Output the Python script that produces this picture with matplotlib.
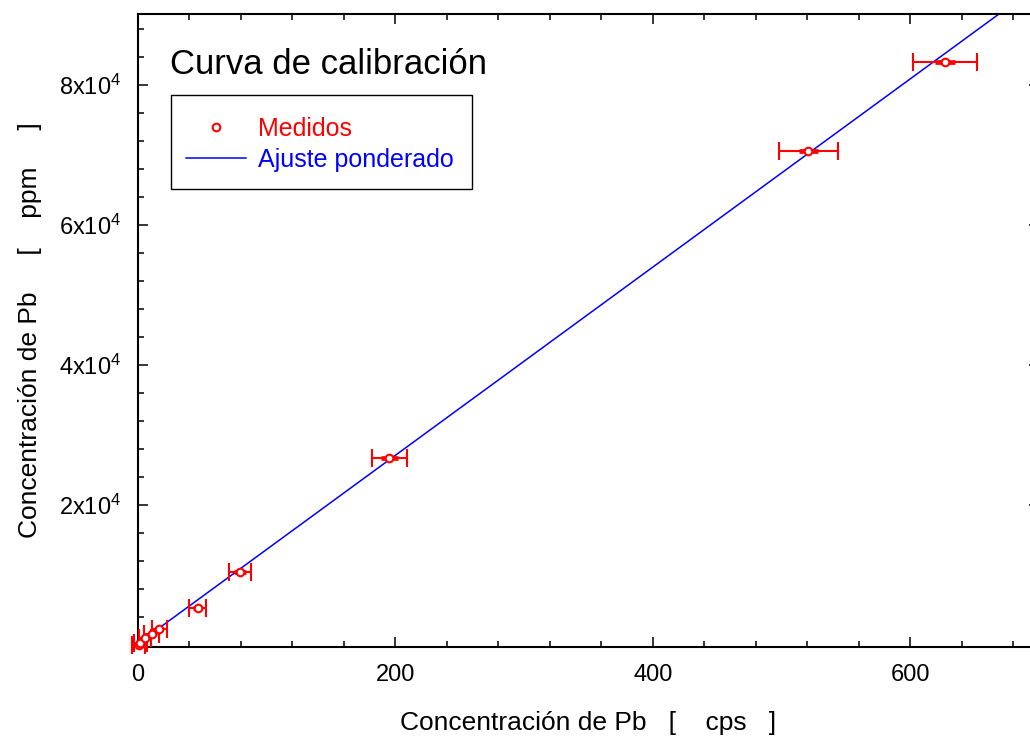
import matplotlib
matplotlib.use("Agg")
import matplotlib.pyplot as plt
from matplotlib.patches import Rectangle
from matplotlib.ticker import MultipleLocator, FixedLocator

plt.rcParams["font.family"] = ["Liberation Sans", "DejaVu Sans"]
plt.rcParams["mathtext.fontset"] = "custom"
plt.rcParams["mathtext.rm"] = "Liberation Sans"

# measured standards: cps vs ppm, with horizontal uncertainty
cps = [0.6, 1.8, 5.4, 10.5, 16.5, 46.4, 79.3, 195.3, 520.8, 627.0]
ppm = [60, 290, 1040, 1670, 2290, 5330, 10390, 26760, 70570, 83330]
cps_err = [5.0, 5.0, 5.0, 5.5, 6.0, 6.8, 8.5, 13.6, 22.7, 25.0]
cps_err_inner = [1.5, 1.5, 2.0, 2.5, 3.0, 3.5, 4.5, 6.6, 7.4, 7.8]

# weighted fit
slope = 134.4
intercept = 250.0
fit_x = [0, 720]
fit_y = [intercept + slope * x for x in fit_x]

ytick_vals = [20000, 40000, 60000, 80000]
ytick_labels = [r"2x$\mathregular{10^{4}}$", r"4x$\mathregular{10^{4}}$",
                r"6x$\mathregular{10^{4}}$", r"8x$\mathregular{10^{4}}$"]

fig = plt.figure(figsize=(10.30, 7.42), dpi=100)
ax = fig.add_axes([138 / 1030, 1 - 647 / 742, 901 / 1030, 633 / 742])

fit_line, = ax.plot(fit_x, fit_y, color="blue", lw=1.1, label="Ajuste ponderado", zorder=2)

# error bars near the origin spill past the axes, so no clipping
eb = ax.errorbar(cps, ppm, xerr=cps_err, fmt="none", ecolor="red", elinewidth=1.5,
                 capsize=6.5, capthick=1.5, zorder=3)
eb_in = ax.errorbar(cps, ppm, xerr=cps_err_inner, fmt="none", ecolor="red", elinewidth=3.4,
                    capsize=0, zorder=3)
for container in (eb, eb_in):
    for art in container.get_children():
        art.set_clip_on(False)
pts, = ax.plot(cps, ppm, "o", ms=5.5, mfc="white", mec="red", mew=1.5, color="red",
               label="Medidos", zorder=4, clip_on=False)

ax.set_xlim(0, 700)
ax.set_ylim(-250, 90150)

ax.xaxis.set_major_locator(MultipleLocator(200))
ax.xaxis.set_minor_locator(MultipleLocator(40))
ax.yaxis.set_major_locator(FixedLocator(ytick_vals))
ax.yaxis.set_minor_locator(MultipleLocator(4000))
ax.set_yticklabels(ytick_labels)

ax.tick_params(which="both", direction="in", top=True, right=True, width=1.1,
               labelsize=17, pad=12)
ax.tick_params(which="major", length=7)
ax.tick_params(which="minor", length=4)
for sp in ax.spines.values():
    sp.set_linewidth(1.5)

ax.set_xlabel("Concentración de Pb   [    cps   ]", fontsize=19, labelpad=18)
ax.set_ylabel("Concentración de Pb     [    ppm     ]", fontsize=19, labelpad=12)

ax.text(0.0355, 0.921, "Curva de calibración", transform=ax.transAxes,
        fontsize=25, va="center", ha="left")

# legend box drawn separately so its padding can be set freely
ax.add_patch(Rectangle((0.0366, 0.7235), 0.334, 0.1485, transform=ax.transAxes,
                       fill=True, facecolor="white", edgecolor="black", lw=1.0, zorder=5))
leg = ax.legend(handles=[pts, fit_line], loc="upper left",
                bbox_to_anchor=(0.0366, 0.861), borderaxespad=0, fontsize=18,
                frameon=False, handlelength=2.4, handletextpad=0.5, borderpad=0.6,
                labelspacing=0.28, labelcolor=["red", "blue"])
leg.set_zorder(6)

fig.savefig("out.png", dpi=100)
